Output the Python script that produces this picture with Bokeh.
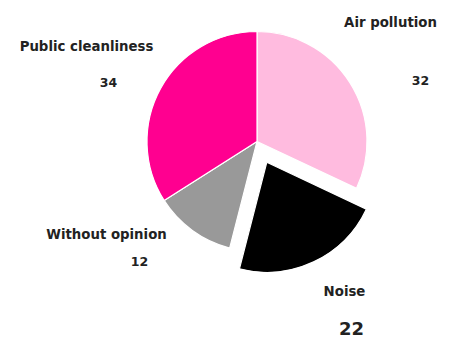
import numpy as np
from bokeh.plotting import figure
from bokeh.models import Range1d, ColumnDataSource
from bokeh.core.properties import value
from bokeh.embed import file_html
from bokeh.resources import INLINE

# ---- data ----
categories = ["Air pollution", "Noise", "Without opinion", "Public cleanliness"]
values = [32, 22, 12, 34]
value_labels = ["32", "22", "12", "34"]
exploded = [0, 1, 0, 0]

# ---- style / layout ----
colors = ["#FFBBDF", "#000000", "#999999", "#FF0090"]
W, H = 450, 340
CX, CY = 256.5, H - 141
R = 110
EXPLODE_DIST = 23
FONT = "DejaVu Sans"
TEXT_COLOR = "#222222"
# label anchors in pixels from top-left
name_pos = [(390, 22), (344, 291), (106, 234), (86, 46)]
val_pos = [(420, 80), (351, 328), (139, 261), (108, 82)]
val_size = ["12.5px", "18px", "12.5px", "12.5px"]

vals = np.array(values, dtype=float)
cum = np.cumsum(vals) / vals.sum() * 2 * np.pi
prev = np.concatenate([[0.0], cum[:-1]])
start = np.pi / 2 - cum
end = np.pi / 2 - prev
mid = (start + end) / 2
xs = CX + np.cos(mid) * EXPLODE_DIST * np.array(exploded)
ys = CY + np.sin(mid) * EXPLODE_DIST * np.array(exploded)

src = ColumnDataSource(dict(x=xs, y=ys, start=start, end=end, color=colors, cat=categories))

p = figure(width=W, height=H, output_backend="svg", toolbar_location=None,
           x_range=Range1d(0, W), y_range=Range1d(0, H), min_border=0,
           tools="")
p.axis.visible = False
p.grid.visible = False
p.outline_line_color = None
p.background_fill_color = "white"
p.border_fill_color = "white"

p.wedge(x="x", y="y", radius=R, start_angle="start", end_angle="end",
        fill_color="color", line_color="white", line_width=1.2, source=src)

p.text(x=[q[0] for q in name_pos], y=[H - q[1] for q in name_pos], text=categories,
       text_font=value(FONT), text_font_style="bold", text_font_size="13.3px",
       text_color=TEXT_COLOR, text_align="center", text_baseline="middle")

for (vx, vy), lab, sz in zip(val_pos, value_labels, val_size):
    p.text(x=[vx], y=[H - vy], text=[lab],
           text_font=value(FONT), text_font_style="bold", text_font_size=sz,
           text_color=TEXT_COLOR, text_align="center", text_baseline="middle")

open("out.html", "w").write(file_html(p, INLINE))
